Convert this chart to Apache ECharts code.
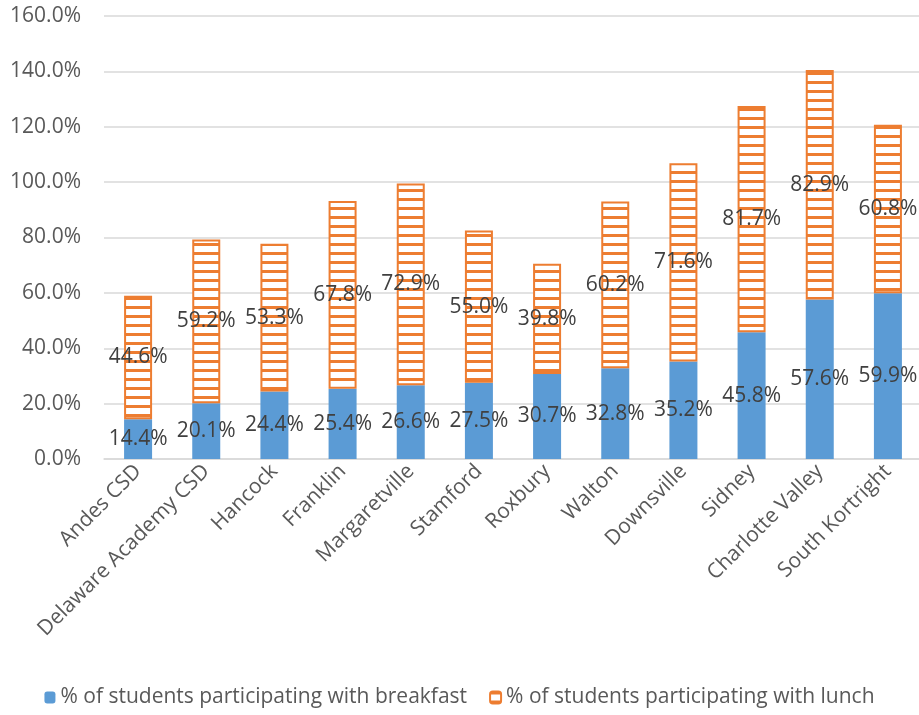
<!DOCTYPE html>
<html>
<head>
<meta charset="utf-8">
<script src="https://cdn.jsdelivr.net/npm/echarts@6/dist/echarts.min.js"></script>
<style>html,body{margin:0;padding:0;background:#fff}#c{width:919px;height:715px}</style>
</head>
<body>
<div id="c"></div>
<script>
var categories = ["Andes CSD","Delaware Academy CSD","Hancock","Franklin","Margaretville","Stamford","Roxbury","Walton","Downsville","Sidney","Charlotte Valley","South Kortright"];
var breakfast = [14.4,20.1,24.4,25.4,26.6,27.5,30.7,32.8,35.2,45.8,57.6,59.9];
var lunch = [44.6,59.2,53.3,67.8,72.9,55.0,39.8,60.2,71.6,81.7,82.9,60.8];
var seriesNames = ["% of students participating with breakfast","% of students participating with lunch"];

var pc = document.createElement('canvas');
pc.width = 8; pc.height = 9;
var ctx = pc.getContext('2d');
ctx.fillStyle = '#ffffff'; ctx.fillRect(0,0,8,9);
ctx.fillStyle = '#ED7D31'; ctx.fillRect(0,0,8,3);

var chart = echarts.init(document.getElementById('c'), null, {renderer:'canvas'});
var font = '"Open Sans", sans-serif';
chart.setOption({
  animation:false,
  grid:{left:104,right:-3,top:16,bottom:256,containLabel:false,outerBoundsMode:'none'},
  legend:{bottom:2,left:'center',itemWidth:11,itemHeight:12,itemGap:22,
    textStyle:{fontFamily:font,fontSize:21,color:'#595959'},data:seriesNames},
  xAxis:{type:'category',data:categories,
    axisLine:{lineStyle:{color:'#D9D9D9',width:1.5}},axisTick:{show:false},
    axisLabel:{rotate:45,interval:0,fontFamily:font,fontSize:21,color:'#595959',margin:9}},
  yAxis:{type:'value',min:0,max:160,interval:20,
    axisLine:{show:false},axisTick:{show:false},
    splitLine:{lineStyle:{color:'#D9D9D9',width:1.5}},
    axisLabel:{fontFamily:font,fontSize:21,color:'#595959',margin:23,
      formatter:function(v){return v.toFixed(1)+'%';}}},
  series:[
    {name:seriesNames[0],type:'bar',stack:'a',data:breakfast,barWidth:28,
      itemStyle:{color:'#5B9BD5'},
      label:{show:true,position:'inside',fontFamily:font,fontSize:21,color:'#404040',
        formatter:function(p){return p.value.toFixed(1)+'%';}}},
    {name:seriesNames[1],type:'bar',stack:'a',data:lunch,barWidth:28,
      itemStyle:{color:{image:pc,repeat:'repeat'},borderColor:'#ED7D31',borderWidth:2},
      label:{show:true,position:'inside',fontFamily:font,fontSize:21,color:'#404040',
        formatter:function(p){return p.value.toFixed(1)+'%';}}}
  ]
});
</script>
</body>
</html>
